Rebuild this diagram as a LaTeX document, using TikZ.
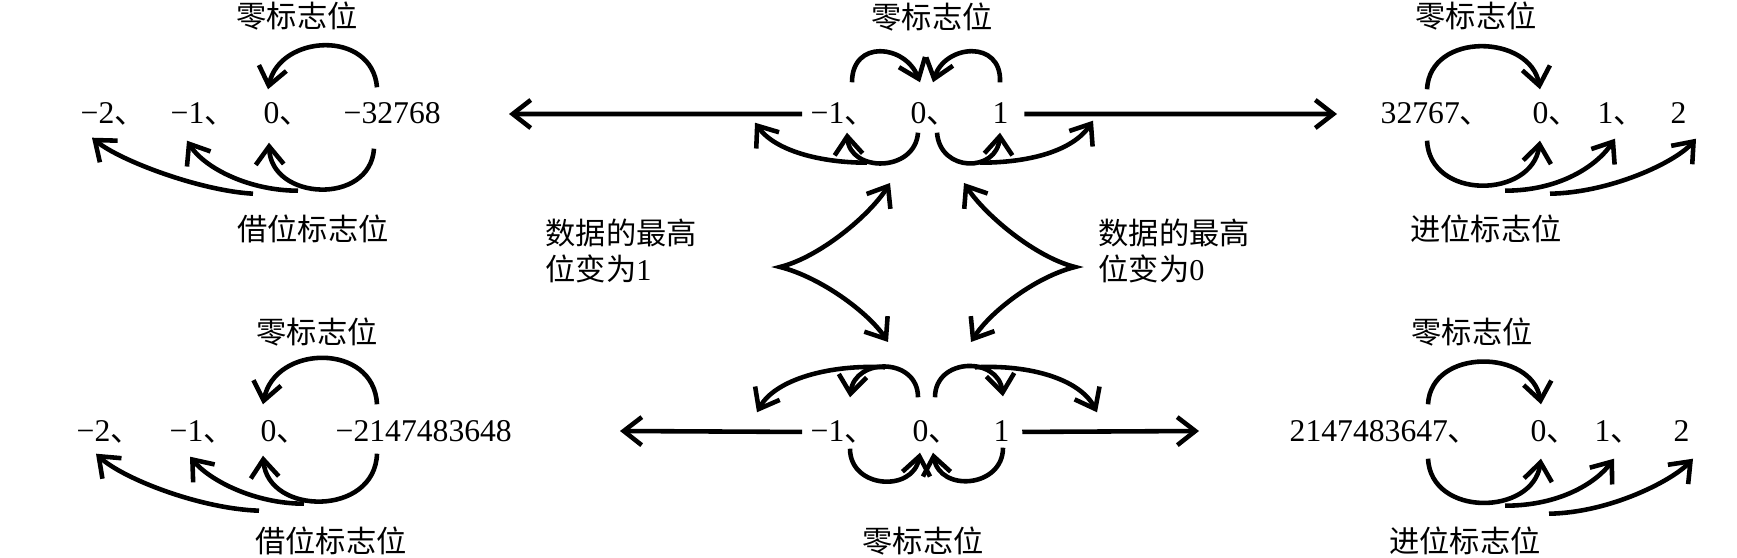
\documentclass[tikz,border=0pt]{standalone}
\usepackage{fontspec}
\setmainfont{Liberation Serif}
\newfontfamily\cjk{Noto Sans CJK SC}
\usetikzlibrary{calc, arrows.meta}
\newcommand\dunhao{{\cjk 、}}

\begin{document}
\begin{tikzpicture}[x=0.01cm, y=-0.01cm,
  num/.style={anchor=base west, inner sep=0pt, text height=0.2cm, text depth=0pt, font=\fontsize{9pt}{10pt}\selectfont},
  lab/.style={inner sep=0pt, font=\fontsize{8.6pt}{10.5pt}\cjk},
  arr/.style={-{Straight Barb[length=1.8mm, width=2.8mm]}, line width=1.3pt},
  darr/.style={{Straight Barb[length=1.8mm, width=2.8mm]}-{Straight Barb[length=1.8mm, width=2.8mm]}, line width=1.3pt}]
\useasboundingbox (0,0) rectangle (1737,558);
% top left
\node[num] (tlA) at (80,124) {−2\dunhao};
\node[num] (tlB) at (170,124) {−1\dunhao};
\node[num] (tlC) at (263,124) {0\dunhao};
\node[num] (tlD) at (343,124) {−32768};
\node[lab] (tlZ) at (297,16) {零标志位};
\node[lab] (tlJ) at (313,229) {借位标志位};
% top centre
\node[num] (ctA) at (810,124) {−1\dunhao};
\node[num] (ctB) at (910,124) {0\dunhao};
\node[num] (ctC) at (992,124) {1};
\node[lab] (ctZ) at (932,17) {零标志位};
% top right
\node[num] (trA) at (1380,124) {32767\dunhao};
\node[num] (trB) at (1532,124) {0\dunhao};
\node[num] (trC) at (1597,124) {1\dunhao};
\node[num] (trD) at (1670,124) {2};
\node[lab] (trZ) at (1476,16) {零标志位};
\node[lab] (trJ) at (1486,229) {进位标志位};
% bottom left
\node[num] (blA) at (76,442) {−2\dunhao};
\node[num] (blB) at (169,442) {−1\dunhao};
\node[num] (blC) at (260,442) {0\dunhao};
\node[num] (blD) at (335,442) {−2147483648};
\node[lab] (blZ) at (317,332) {零标志位};
\node[lab] (blJ) at (331,541) {借位标志位};
% bottom centre
\node[num] (cbA) at (810,442) {−1\dunhao};
\node[num] (cbB) at (912,442) {0\dunhao};
\node[num] (cbC) at (993,442) {1};
\node[lab] (cbZ) at (923,541) {零标志位};
% bottom right
\node[num] (brA) at (1289,442) {2147483647\dunhao};
\node[num] (brB) at (1530,442) {0\dunhao};
\node[num] (brC) at (1594,442) {1\dunhao};
\node[num] (brD) at (1673,442) {2};
\node[lab] (brZ) at (1472,332) {零标志位};
\node[lab] (brJ) at (1465,541) {进位标志位};
% middle
\node[lab, anchor=west, align=left] (mL) at (545,251) {数据的最高\\位变为{\rmfamily 1}};
\node[lab, anchor=west, align=left] (mR) at (1098,251) {数据的最高\\位变为{\rmfamily 0}};
\coordinate (tlEnd) at (509,114);
\coordinate (trEnd) at (1337,114);
\coordinate (blEnd) at (620,431);
\coordinate (brEnd) at (1199,431);
\coordinate (dTL) at (890,183);
\coordinate (dTR) at (964,183);
\coordinate (dBL) at (888,342);
\coordinate (dBR) at (971,342);
\coordinate (dL) at (780,267);
\coordinate (dR) at (1075,267);

% long arrows
\draw[arr, shorten <=0.08cm] (ctA.west) -- (tlEnd);
\draw[arr, shorten <=0.15cm] (ctC.east) -- (trEnd);
\draw[arr, shorten <=0.08cm] (cbA.west) -- (blEnd);
\draw[arr, shorten <=0.12cm] (cbC.east) -- (brEnd);

% top left arcs
\draw[arr] ($(tlD.north west)+(34,-16)$) .. controls +(-5,-58) and +(12,-55) .. ($(tlC.north west)+(5,-14)$);
\draw[arr] ($(tlD.south west)+(31,24)$) .. controls +(-4,57) and +(2,58) .. ($(tlC.south west)+(6,18)$);
\draw[arr] ($(tlC.south west)+(35,66)$) .. controls +(-48,0) and +(18,28) .. ($(tlB.south west)+(17,16)$);
\draw[arr] ($(tlC.south west)+(-10,69)$) .. controls +(-53,-3) and +(28,23) .. ($(tlA.south west)+(12,13)$);

% top centre arcs
\draw[arr] ($(ctA.north west)+(42,-21)$) .. controls +(0,-43) and +(-15,-38) .. ($(ctB.north west)+(10,-21)$);
\draw[arr] ($(ctC.north west)+(8,-21)$) .. controls +(2,-43) and +(12,-38) .. ($(ctB.north west)+(23,-21)$);
\draw[arr] ($(ctB.south west)+(8,8)$) .. controls +(-3,40) and +(3,40) .. ($(ctA.south west)+(37,8)$);
\draw[arr] ($(ctA.south west)+(57,38)$) .. controls +(-47,0) and +(20,28) .. ($(ctA.south west)+(-55,-2)$);
\draw[arr] ($(ctB.south west)+(27,8)$) .. controls +(3,40) and +(-3,40) .. ($(ctC.south west)+(8,8)$);
\draw[arr] ($(ctC.south west)+(-12,38)$) .. controls +(50,0) and +(-20,30) .. ($(ctC.south west)+(101,-4)$);

% bottom centre arcs
\draw[arr] ($(cbB.north west)+(6,-24)$) .. controls +(0,-40) and +(5,-40) .. ($(cbA.north west)+(40,-24)$);
\draw[arr] ($(cbB.north west)+(-27,-54)$) .. controls +(-55,-3) and +(18,-33) .. ($(cbA.north west)+(-53,-9)$);
\draw[arr] ($(cbB.north west)+(23,-24)$) .. controls +(0,-40) and +(-5,-40) .. ($(cbC.north west)+(10,-25)$);
\draw[arr] ($(cbB.north west)+(63,-54)$) .. controls +(55,-3) and +(-17,-33) .. ($(cbC.north west)+(104,-9)$);
\draw[arr] ($(cbA.south west)+(40,6)$) .. controls +(0,40) and +(-7,40) .. ($(cbB.south west)+(8,10)$);
\draw[arr] ($(cbC.south west)+(10,5)$) .. controls +(0,40) and +(7,40) .. ($(cbB.south west)+(21,10)$);

% top right arcs
\draw[arr] ($(trA.north west)+(47,-14)$) .. controls +(3,-58) and +(-10,-55) .. ($(trB.north west)+(8,-14)$);
\draw[arr] ($(trA.south west)+(47,16)$) .. controls +(3,60) and +(-8,58) .. ($(trB.south west)+(8,16)$);
\draw[arr] ($(trB.south west)+(-27,66)$) .. controls +(55,0) and +(-18,27) .. ($(trC.south west)+(18,14)$);
\draw[arr] ($(trB.south west)+(18,69)$) .. controls +(60,-1) and +(-21,24) .. ($(trD.south west)+(26,14)$);

% bottom right arcs
\draw[arr] ($(brA.north west)+(139,-17)$) .. controls +(3,-57) and +(-9,-55) .. ($(brB.north west)+(11,-17)$);
\draw[arr] ($(brA.south west)+(139,16)$) .. controls +(3,59) and +(-8,57) .. ($(brB.south west)+(11,16)$);
\draw[arr] ($(brB.south west)+(-25,63)$) .. controls +(55,0) and +(-18,24) .. ($(brC.south west)+(20,16)$);
\draw[arr] ($(brB.south west)+(19,71)$) .. controls +(61,-1) and +(-21,22) .. ($(brD.south west)+(20,16)$);

% bottom left arcs
\draw[arr] ($(blD.north west)+(42,-17)$) .. controls +(-3,-62) and +(12,-60) .. ($(blC.north west)+(3,-17)$);
\draw[arr] ($(blD.south west)+(42,11)$) .. controls +(-2,63) and +(5,60) .. ($(blC.south west)+(3,13)$);
\draw[arr] ($(blC.south west)+(44,61)$) .. controls +(-49,0) and +(20,24) .. ($(blB.south west)+(21,14)$);
\draw[arr] ($(blC.south west)+(-1,68)$) .. controls +(-59,-2) and +(27,25) .. ($(blA.south west)+(20,11)$);

% diamond
\draw[darr] (dTL) .. controls (870,215) and (820,257) .. (dL) .. controls (820,277) and (868,312) .. (dBL);
\draw[darr] (dTR) .. controls (985,215) and (1035,257) .. (dR) .. controls (1035,277) and (990,312) .. (dBR);
\end{tikzpicture}
\end{document}
